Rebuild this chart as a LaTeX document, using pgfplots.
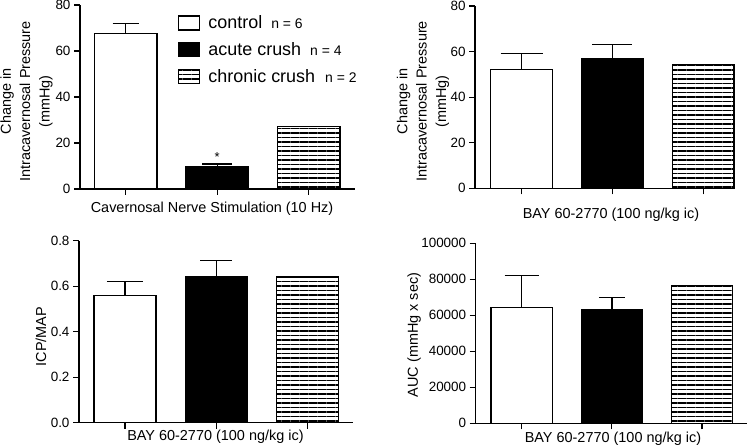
\documentclass[border=0pt]{standalone}
\usepackage{fontspec}
\setmainfont{Liberation Sans}
\usepackage{pgfplots}
\pgfplotsset{compat=1.18}
\usetikzlibrary{patterns.meta}

\tikzset{hatch/.style={pattern={Lines[angle=0,distance=4.5bp,line width=1.3bp]}, pattern color=black}}

\pgfplotsset{
  gp/.style={
    scale only axis,
    anchor=south west,
    axis lines=left,
    axis line style={-, line width=1.3bp, black},
    tick align=outside,
    major tick length=6bp,
    tick style={line width=1.2bp, black},
    xtick={0,1,2}, xticklabels={},
    ytick pos=left, xtick pos=bottom,
    ymin=0,
    tick label style={font=\fontsize{13.5}{13.5}\selectfont},
    label style={font=\fontsize{14.5}{19.5}\selectfont, align=center},
    /pgf/number format/assume math mode=true,
    clip=false,
  },
  bars/.style={
    ybar, bar width=0.68, bar shift=0pt, line width=1.3bp, draw=black,
    error bars/y dir=plus, error bars/y explicit,
    error bars/error bar style={line width=1.3bp, black},
    error bars/error mark options={rotate=90, line width=1.3bp, black, mark size=#1},
  },
  bars/.default=13bp,
}

\pgfplotstableread{
x y e
0 67.7 4.3
}\pA
\pgfplotstableread{
x y e
1 9.7 1.2
}\pB
\pgfplotstableread{
x y e
2 27.1 0
}\pC

\begin{document}
\begin{tikzpicture}
\path[use as bounding box] (0,0) rectangle (750bp,448bp);

% Panel 1
\begin{axis}[gp, at={(80bp,259bp)}, width=274.5bp, height=184bp,
  xmin=-0.5, xmax=2.5, ymax=80, ytick={0,20,40,60,80},
  xlabel={Cavernosal Nerve Stimulation (10 Hz)},
  xlabel style={at={(axis description cs:0.481,0)}, anchor=base, yshift=-24bp},
  ylabel={Change in\\Intracavernosal Pressure\\(mmHg)},
  ylabel style={at={(axis description cs:-0.195,0.476)}, anchor=center},
  legend style={draw=none, fill=none, at={(axis description cs:0.357,0.945)}, anchor=north west,
    inner sep=0pt, row sep=11.5bp, font=\fontsize{18}{18}\selectfont,
    nodes={inner sep=0pt}, /tikz/every odd column/.append style={column sep=8bp}},
  legend cell align=left,
  legend image code/.code={\draw[#1, line width=1.3bp] (0bp,-7bp) rectangle (21bp,7bp);},
]
\addplot[bars=13bp, fill=white] table[x=x, y=y, y error=e] {\pA};
\addlegendentry{control\hspace{9bp}{\fontsize{14}{14}\selectfont n = 6}}
\addplot[bars=15bp, fill=black] table[x=x, y=y, y error=e] {\pB};
\addlegendentry{acute crush\hspace{9bp}{\fontsize{14}{14}\selectfont n = 4}}
\addplot[ybar, bar width=0.68, bar shift=0pt, line width=1.3bp, draw=black, hatch] table[x=x, y=y] {\pC};
\addlegendentry{chronic crush\hspace{10bp}{\fontsize{14}{14}\selectfont n = 2}}
\node[font=\fontsize{13}{13}\selectfont, anchor=south, inner sep=0pt] at (axis cs:1,12.0) {*};
\end{axis}

% Panel 2
\begin{axis}[gp, at={(475bp,259.7bp)}, width=260bp, height=182.3bp,
  xmin=-0.514, xmax=2.35, ymax=80, ytick={0,20,40,60,80},
  xlabel={BAY 60-2770 (100 ng/kg ic)},
  xlabel style={at={(axis description cs:0.523,0)}, anchor=base, yshift=-30bp},
  ylabel={Change in\\Intracavernosal Pressure\\(mmHg)},
  ylabel style={at={(axis description cs:-0.2,0.477)}, anchor=center},
]
\addplot[bars=21bp, fill=white] coordinates {(0,52.2) +- (0,7.0)};
\addplot[bars=20bp, fill=black] coordinates {(1,57.0) +- (0,6.2)};
\addplot[ybar, bar width=0.68, bar shift=0pt, line width=1.3bp, draw=black, hatch] coordinates {(2,54.4)};
\end{axis}

% Panel 3
\begin{axis}[gp, at={(79bp,25.3bp)}, width=274bp, height=182bp,
  xmin=-0.504, xmax=2.5, ymax=0.8, ytick={0,0.2,0.4,0.6,0.8},
  yticklabel style={/pgf/number format/.cd, fixed, fixed zerofill, precision=1},
  xlabel={BAY 60-2770 (100 ng/kg ic)},
  xlabel style={at={(axis description cs:0.498,0)}, anchor=base, yshift=-18bp},
  ylabel={ICP/MAP},
  ylabel style={at={(axis description cs:-0.139,0.473)}, anchor=center},
]
\addplot[bars=18bp, fill=white] coordinates {(0,0.56) +- (0,0.06)};
\addplot[bars=16bp, fill=black] coordinates {(1,0.64) +- (0,0.072)};
\addplot[ybar, bar width=0.68, bar shift=0pt, line width=1.3bp, draw=black, hatch] coordinates {(2,0.64)};
\end{axis}

% Panel 4
\begin{axis}[gp, at={(475.7bp,24.7bp)}, width=271.3bp, height=180bp,
  xmin=-0.511, xmax=2.5, ymax=100000, ytick={0,20000,40000,60000,80000,100000},
  scaled y ticks=false,
  yticklabel style={/pgf/number format/.cd, fixed, 1000 sep={}},
  xlabel={BAY 60-2770 (100 ng/kg ic)},
  xlabel style={at={(axis description cs:0.506,0)}, anchor=base, yshift=-19bp},
  ylabel={AUC (mmHg x sec)},
  ylabel style={at={(axis description cs:-0.227,0.49)}, anchor=center},
]
\addplot[bars=17bp, fill=white] coordinates {(0,64200) +- (0,17800)};
\addplot[bars=13bp, fill=black] coordinates {(1,63300) +- (0,6500)};
\addplot[ybar, bar width=0.68, bar shift=0pt, line width=1.3bp, draw=black, hatch] coordinates {(2,76400)};
\end{axis}
\end{tikzpicture}
\end{document}
